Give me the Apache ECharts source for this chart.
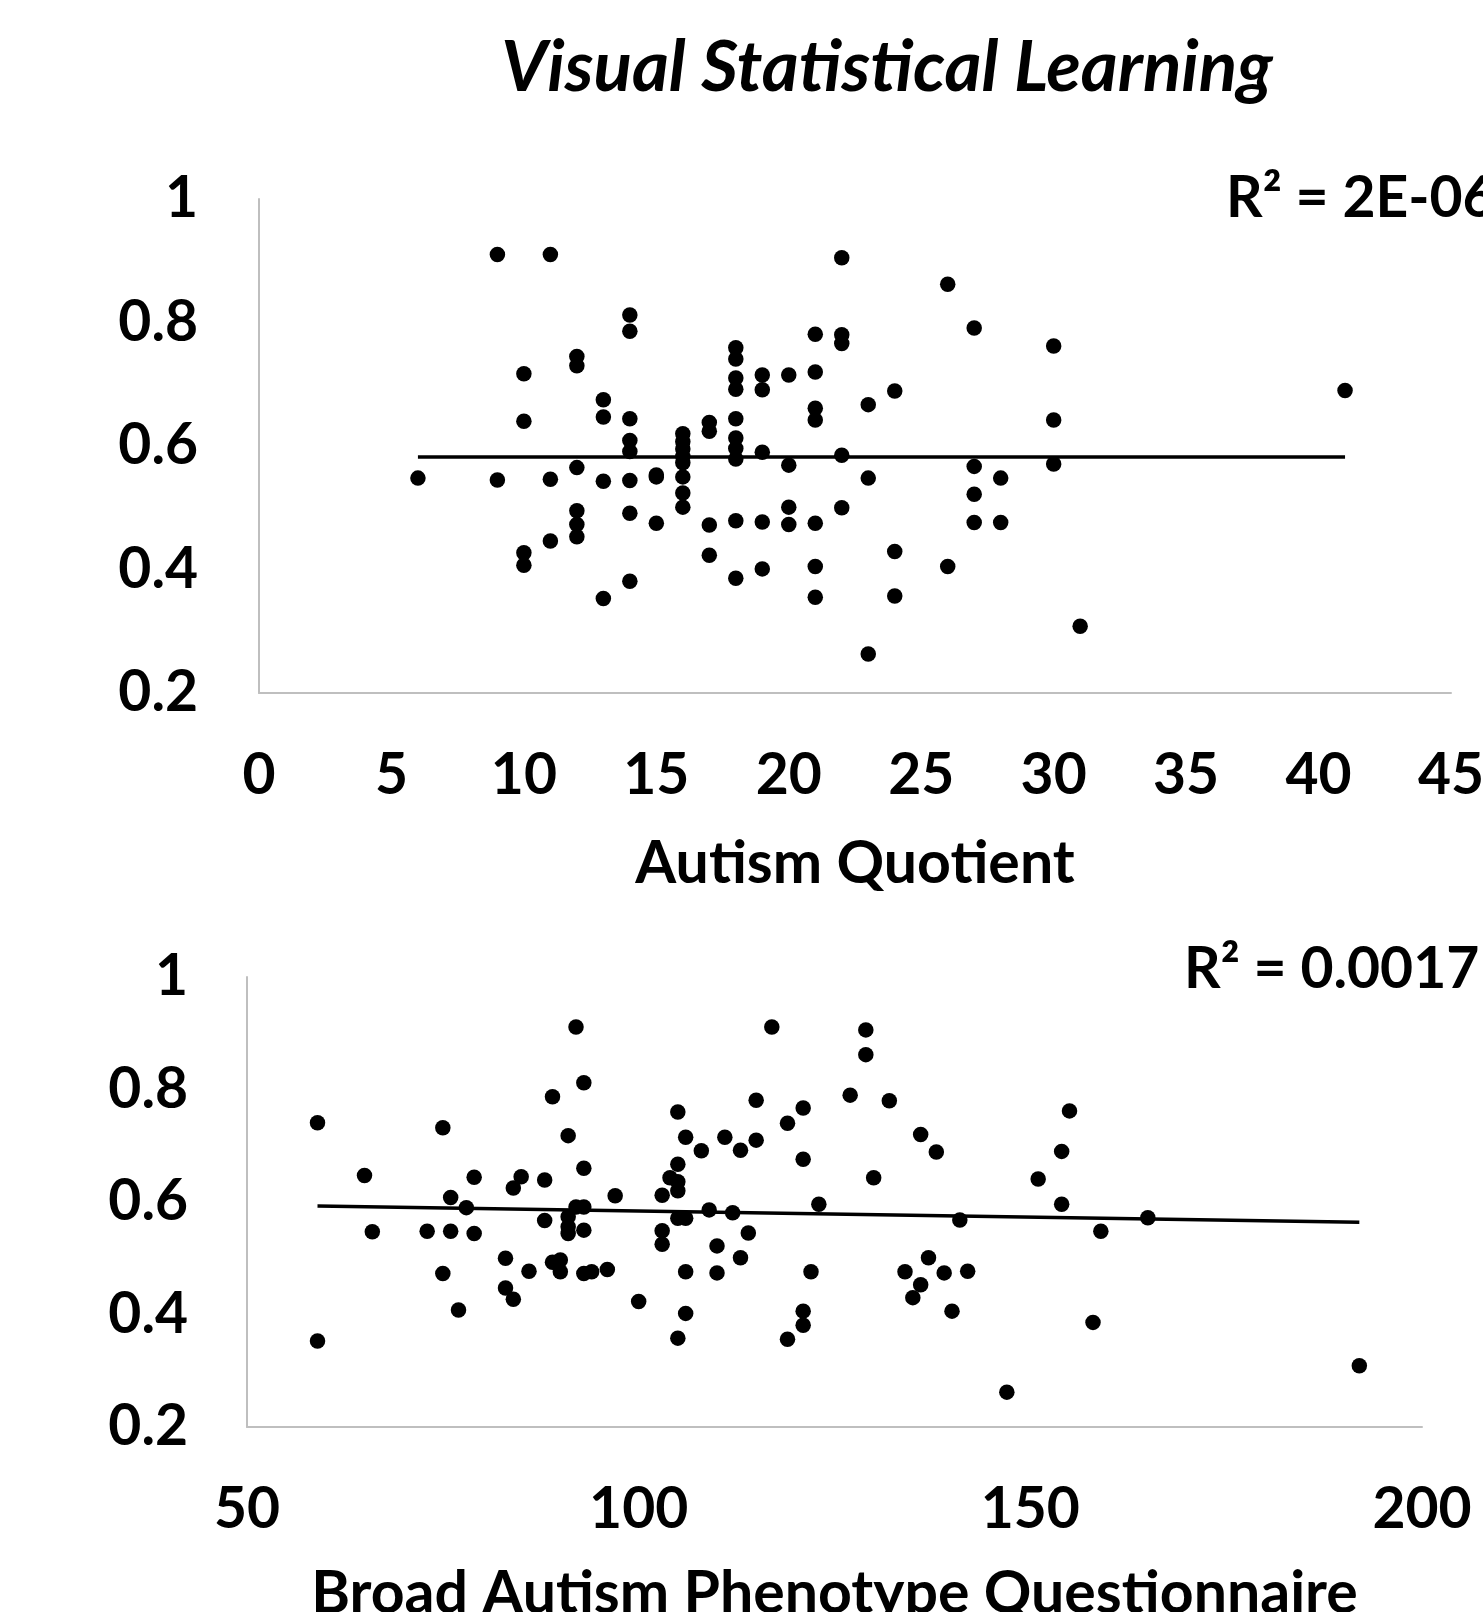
<!DOCTYPE html>
<html>
<head>
<meta charset="utf-8">
<script src="https://cdn.jsdelivr.net/npm/echarts@6/dist/echarts.min.js"></script>
<style>
html,body{margin:0;padding:0;background:#fff;}
#chart{width:1483px;height:1612px;}
</style>
</head>
<body>
<div id="chart"></div>
<script>
// ---- Data ----
const aqX = [6, 9, 9, 10, 10, 10, 10, 11, 11, 11, 12, 12, 12, 12, 12, 12, 13, 13, 13, 13,
  14, 14, 14, 14, 14, 14, 14, 14, 15, 15, 15, 16, 16, 16, 16, 16, 16, 16, 16,
  17, 17, 17, 17, 18, 18, 18, 18, 18, 18, 18, 18, 18, 18, 19, 19, 19, 19, 19,
  20, 20, 20, 20, 21, 21, 21, 21, 21, 21, 21, 22, 22, 22, 22, 22, 23, 23, 23,
  24, 24, 24, 26, 26, 27, 27, 27, 27, 28, 28, 30, 30, 30, 31, 41];
const aqY = [0.548, 0.91, 0.545, 0.717, 0.64, 0.427, 0.407, 0.91, 0.546, 0.446,
  0.745, 0.73, 0.565, 0.495, 0.473, 0.453, 0.675, 0.647, 0.543, 0.353,
  0.812, 0.786, 0.644, 0.609, 0.591, 0.544, 0.491, 0.381, 0.55, 0.553, 0.475,
  0.62, 0.607, 0.595, 0.583, 0.573, 0.55, 0.524, 0.501,
  0.638, 0.624, 0.472, 0.423, 0.759, 0.741, 0.71, 0.692, 0.644, 0.613, 0.596, 0.579, 0.479, 0.386,
  0.715, 0.691, 0.59, 0.477, 0.401, 0.715, 0.569, 0.501, 0.473,
  0.781, 0.72, 0.661, 0.642, 0.475, 0.405, 0.355, 0.905, 0.78, 0.766, 0.585, 0.5,
  0.667, 0.548, 0.263, 0.689, 0.429, 0.357, 0.862, 0.405, 0.791, 0.567, 0.522, 0.476,
  0.548, 0.476, 0.762, 0.642, 0.571, 0.308, 0.69];

const bapqX = [59, 59, 65, 66, 73, 75, 75, 76, 76, 77, 78, 79, 79, 83, 83, 84, 84, 85, 86,
  88, 88, 89, 89, 90, 90, 91, 91, 91, 91, 92, 92, 93, 93, 93, 93, 93, 94, 96, 97, 100,
  103, 103, 103, 104, 105, 105, 105, 105, 105, 105, 106, 106, 106, 106, 108, 109, 110, 110,
  111, 112, 113, 113, 114, 115, 115, 117, 119, 119, 121, 121, 121, 121, 122, 123, 127,
  129, 129, 130, 132, 134, 135, 136, 136, 137, 138, 139, 140, 141, 142, 147, 151,
  154, 154, 155, 158, 159, 165, 192];
const bapqY = [0.741, 0.353, 0.647, 0.547, 0.548, 0.732, 0.473, 0.608, 0.548, 0.408, 0.59, 0.644, 0.544,
  0.5, 0.447, 0.625, 0.427, 0.645, 0.477, 0.639, 0.567, 0.787, 0.493, 0.497, 0.476,
  0.718, 0.574, 0.556, 0.544, 0.911, 0.591, 0.812, 0.66, 0.591, 0.55, 0.473, 0.476, 0.48, 0.611, 0.423,
  0.612, 0.549, 0.525, 0.643, 0.76, 0.667, 0.636, 0.62, 0.571, 0.358, 0.715, 0.571, 0.476, 0.402,
  0.691, 0.586, 0.522, 0.474, 0.715, 0.581, 0.692, 0.501, 0.545, 0.781, 0.71, 0.911,
  0.74, 0.356, 0.767, 0.676, 0.406, 0.381, 0.476, 0.596, 0.79, 0.906, 0.862, 0.643, 0.78,
  0.476, 0.43, 0.72, 0.453, 0.501, 0.689, 0.474, 0.406, 0.568, 0.477, 0.262, 0.641,
  0.69, 0.596, 0.762, 0.386, 0.548, 0.572, 0.309];

// trendline endpoints as drawn in the reference
const aqTrendX = [6, 41];
const aqTrendY = [0.582, 0.582];
const bapqTrendX = [59, 192];
const bapqTrendY = [0.593, 0.564];

const titleText = 'Visual Statistical Learning';
const aqAxisName = 'Autism Quotient';
const bapqAxisName = 'Broad Autism Phenotype Questionnaire';
const aqR2 = 'R² = 2E-06';
const bapqR2 = 'R² = 0.0017';

// ---- Build ----
const zip = (xs, ys) => xs.map((x, i) => [x, ys[i]]);
const FONT = 'Lato';
const labelStyle = {color: '#000', fontFamily: FONT, fontWeight: 'bold', fontSize: 57};
const nameStyle = {color: '#000', fontFamily: FONT, fontWeight: 'bold', fontSize: 59};
const axisLineStyle = {show: true, lineStyle: {color: '#bfbfbf', width: 2}};

const chart = echarts.init(document.getElementById('chart'), null, {renderer: 'canvas'});
chart.setOption({
  backgroundColor: '#fff',
  animation: false,
  title: {
    text: titleText,
    left: 882,
    top: 28,
    textAlign: 'center',
    textStyle: {fontFamily: FONT, fontStyle: 'italic', fontWeight: 'bold', fontSize: 71, color: '#000'}
  },
  grid: [
    {left: 259, top: 199, width: 1192, height: 494, outerBoundsMode: 'none', containLabel: false},
    {left: 247, top: 977, width: 1175, height: 450, outerBoundsMode: 'none', containLabel: false}
  ],
  xAxis: [
    {gridIndex: 0, type: 'value', min: 0, max: 45, interval: 5,
     name: aqAxisName, nameLocation: 'middle', nameGap: 141,
     nameTextStyle: nameStyle,
     axisLine: axisLineStyle, axisTick: {show: false}, splitLine: {show: false},
     axisLabel: Object.assign({margin: 54}, labelStyle)},
    {gridIndex: 1, type: 'value', min: 50, max: 200, interval: 50,
     name: bapqAxisName, nameLocation: 'middle', nameGap: 137,
     nameTextStyle: nameStyle,
     axisLine: axisLineStyle, axisTick: {show: false}, splitLine: {show: false},
     axisLabel: Object.assign({margin: 54}, labelStyle)}
  ],
  yAxis: [
    {gridIndex: 0, type: 'value', min: 0.2, max: 1, interval: 0.2,
     axisLine: axisLineStyle, axisTick: {show: false}, splitLine: {show: false},
     axisLabel: Object.assign({margin: 61}, labelStyle)},
    {gridIndex: 1, type: 'value', min: 0.2, max: 1, interval: 0.2,
     axisLine: axisLineStyle, axisTick: {show: false}, splitLine: {show: false},
     axisLabel: Object.assign({margin: 59}, labelStyle)}
  ],
  series: [
    {type: 'scatter', xAxisIndex: 0, yAxisIndex: 0, data: zip(aqX, aqY),
     symbol: 'circle', symbolSize: 15.5, itemStyle: {color: '#000', opacity: 1}},
    {type: 'line', xAxisIndex: 0, yAxisIndex: 0, data: zip(aqTrendX, aqTrendY),
     symbol: 'none', lineStyle: {color: '#000', width: 3.5}},
    {type: 'scatter', xAxisIndex: 1, yAxisIndex: 1, data: zip(bapqX, bapqY),
     symbol: 'circle', symbolSize: 15.5, itemStyle: {color: '#000', opacity: 1}},
    {type: 'line', xAxisIndex: 1, yAxisIndex: 1, data: zip(bapqTrendX, bapqTrendY),
     symbol: 'none', lineStyle: {color: '#000', width: 3.5}}
  ],
  graphic: [
    {type: 'text', left: 1226, top: 170,
     style: {text: aqR2, fill: '#000', font: 'bold 57px Lato'}},
    {type: 'text', left: 1184, top: 941,
     style: {text: bapqR2, fill: '#000', font: 'bold 57px Lato'}}
  ]
});
</script>
</body>
</html>
